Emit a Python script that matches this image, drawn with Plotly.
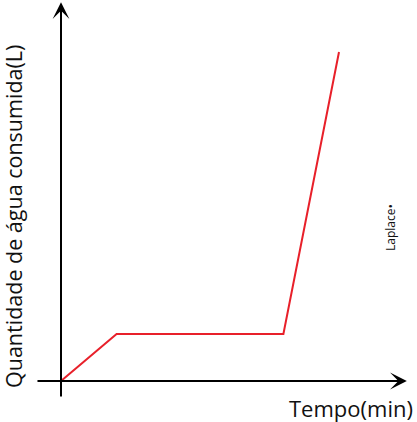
import plotly.graph_objects as go

# time (min) vs water used (L)
tempo = [0, 1, 4, 5]
agua = [0, 1, 1, 7]

LINE_RED = '#E8202A'
AXIS_BLACK = '#000000'
FONT = 'Open Sans'

fig = go.Figure()

fig.add_trace(go.Scatter(
    x=tempo, y=agua,
    mode='lines',
    line=dict(color=LINE_RED, width=2),
    hoverinfo='skip',
    showlegend=False,
))

# axes drawn as arrows
axis_arrow = dict(
    xref='x', yref='y', axref='x', ayref='y',
    showarrow=True, arrowhead=3, arrowsize=1.4, arrowwidth=2,
    arrowcolor=AXIS_BLACK, text='',
)
fig.add_annotation(x=0, y=8.06, ax=0, ay=-0.36, **axis_arrow)
fig.add_annotation(x=6.22, y=0, ax=-0.45, ay=0, **axis_arrow)

label = dict(xref='paper', yref='paper', showarrow=False,
             xanchor='center', yanchor='middle')
fig.add_annotation(
    text='Quantidade de água consumida(L)',
    x=13 / 417, y=1 - 217 / 422, textangle=-90,
    font=dict(family=FONT, size=21.5, color='#111111'), **label,
)
fig.add_annotation(
    text='Tempo(min)',
    x=351 / 417, y=1 - 408 / 422,
    font=dict(family=FONT, size=22, color='#111111'), **label,
)
fig.add_annotation(
    text='Laplace•',
    x=390 / 417, y=1 - 228 / 422, textangle=-90,
    font=dict(family=FONT, size=12, color='#111111'), **label,
)

fig.update_layout(
    width=417, height=422,
    margin=dict(l=0, r=0, t=0, b=0),
    paper_bgcolor='white',
    plot_bgcolor='white',
    xaxis=dict(range=[-61 / 55.6, 356 / 55.6], visible=False, fixedrange=True),
    yaxis=dict(range=[-41 / 47, 381 / 47], visible=False, fixedrange=True),
)

fig.write_html('out.html', config={'displayModeBar': False},
               post_script="document.body.style.margin='0';")
